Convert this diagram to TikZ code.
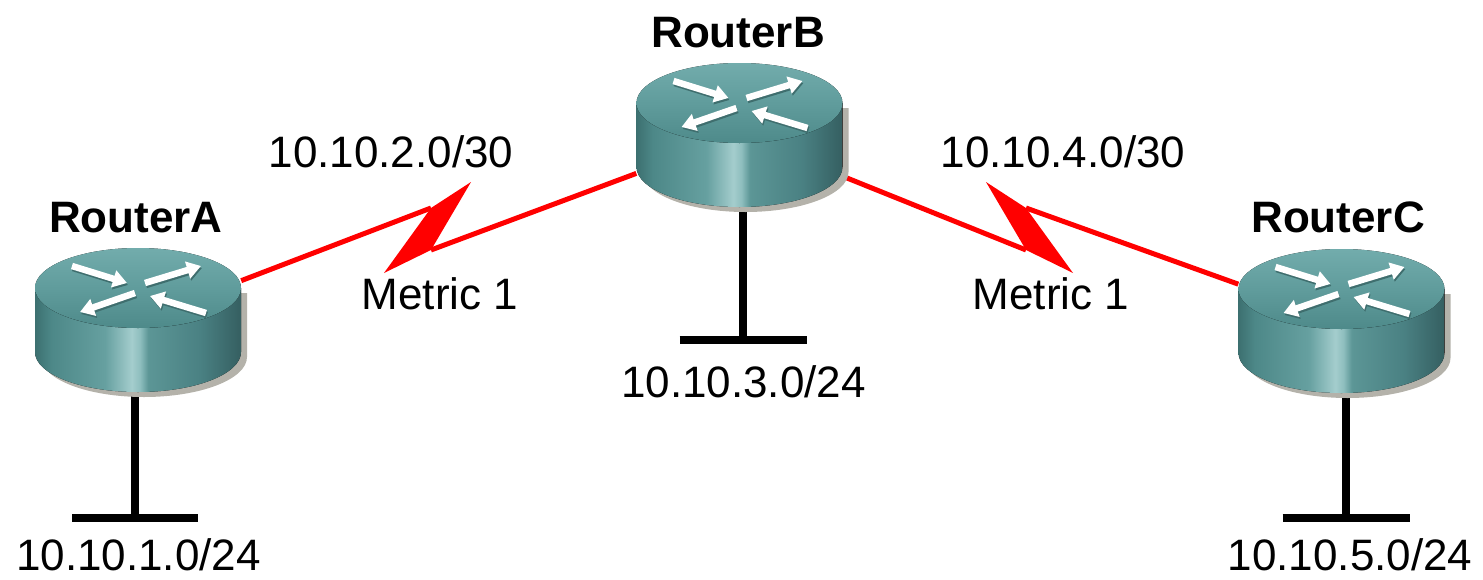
\documentclass[tikz,border=0pt]{standalone}
\usepackage{fontspec}
\setmainfont{Liberation Sans}
\usetikzlibrary{arrows.meta,calc}
\definecolor{sA}{HTML}{3C7070}
\definecolor{sB}{HTML}{4D8888}
\definecolor{sC}{HTML}{66A0A0}
\definecolor{sD}{HTML}{A4CDCD}
\definecolor{sE}{HTML}{8EBEBE}
\definecolor{sF}{HTML}{5C9696}
\definecolor{sG}{HTML}{4A8183}
\definecolor{sH}{HTML}{355F61}
\definecolor{topLight}{HTML}{72ACAC}
\definecolor{topMid}{HTML}{609C9C}
\definecolor{topDark}{HTML}{4E8A8A}
\definecolor{rshadow}{HTML}{B4B2AA}
\definecolor{arrowshadow}{HTML}{3F6E6E}
\definecolor{linkred}{HTML}{FF0000}
\pgfdeclarehorizontalshading{routerside}{100bp}{color(0bp)=(sA); color(25bp)=(sA); color(29bp)=(sB); color(42bp)=(sC); color(48.5bp)=(sD); color(50.5bp)=(sE); color(52.5bp)=(sF); color(65bp)=(sG); color(75bp)=(sH); color(100bp)=(sH)}
\tikzset{
  router/.pic={
    \fill[rshadow] (-97,5) -- (-97,69) arc[start angle=180,end angle=0,x radius=103,y radius=40] -- (109,5) -- cycle;
    \fill[shading=routerside] (-103,0) -- (-103,64) arc[start angle=180,end angle=0,x radius=103,y radius=40] -- (103,0) -- cycle;
    \fill[top color=topLight, bottom color=topDark, middle color=topMid] (0,0) ellipse[x radius=103,y radius=40];
    \draw[rarrow, arrowshadow] (-65,-20) -- (-10,-3);
    \draw[rarrow, arrowshadow] (8,-3) -- (64,-20);
    \draw[rarrow, arrowshadow] (-2,7) -- (-57,26);
    \draw[rarrow, arrowshadow] (69,27) -- (13,10);
    \draw[rarrow, white] (-66,-22) -- (-11,-5);
    \draw[rarrow, white] (7,-5) -- (63,-22);
    \draw[rarrow, white] (-3,5) -- (-58,24);
    \draw[rarrow, white] (68,25) -- (12,8);
  },
  rarrow/.style={line width=6.5pt, -{Triangle[length=14pt,width=17pt]}},
  routerbox/.style={shape=rectangle, minimum width=206pt, minimum height=144pt, inner sep=0pt},
  serial/.style={draw=linkred, line width=5pt},
  bolt/.style={fill=linkred},
  stand/.style={draw=black, line width=8pt},
  lbl/.style={anchor=base, inner sep=0pt, font=\fontsize{44}{48}\selectfont},
  rlbl/.style={anchor=base, inner sep=0pt, font=\fontsize{44}{48}\selectfont\bfseries}
}
\begin{document}
\begin{tikzpicture}[x=1pt,y=-1pt]
\useasboundingbox (0,0) rectangle (1483,579);
% router positions
\node[routerbox] (A) at (138,320) {};
\node[routerbox] (B) at (739.5,135) {};
\node[routerbox] (C) at (1341.5,321) {};
% serial bolt corners
\coordinate (ab1) at (471,182);
\coordinate (ab2) at (431,250);
\coordinate (ab3) at (384,273);
\coordinate (ab4) at (431,208);
\coordinate (bc1) at (986,182);
\coordinate (bc2) at (1026,250);
\coordinate (bc3) at (1073,273);
\coordinate (bc4) at (1026,208);
% serial links
\draw[serial] (A) -- (ab4);
\draw[serial] (ab2) -- (B);
\fill[bolt] (ab1) -- (ab2) -- (ab3) -- (ab4) -- cycle;
\draw[serial] (B) -- (bc2);
\draw[serial] (bc4) -- (C);
\fill[bolt] (bc1) -- (bc2) -- (bc3) -- (bc4) -- cycle;
% LAN stands
\coordinate (lanA) at (135,518);
\coordinate (lanB) at (743,340);
\coordinate (lanC) at (1346,518);
\draw[stand] (lanA) -- (lanA |- A.south);
\draw[stand] ($(lanA)+(-63,0)$) -- ($(lanA)+(63,0)$);
\draw[stand] (lanB) -- (lanB |- B.south);
\draw[stand] ($(lanB)+(-63.5,0)$) -- ($(lanB)+(63.5,0)$);
\draw[stand] (lanC) -- (lanC |- C.south);
\draw[stand] ($(lanC)+(-63.5,0)$) -- ($(lanC)+(63.5,0)$);
% routers
\pic at (138,288) {router};
\pic at (739.5,103) {router};
\pic at (1341.5,289) {router};
% labels
\node[rlbl] (tA) at (136,232) {RouterA};
\node[rlbl] (tB) at (738,47) {RouterB};
\node[rlbl] (tC) at (1338,232) {RouterC};
\node[lbl] (nAB) at (391,167) {10.10.2.0/30};
\node[lbl] (mAB) at (440,309) {Metric 1};
\node[lbl] (nBC) at (1063,167) {10.10.4.0/30};
\node[lbl] (mBC) at (1051,309) {Metric 1};
\node[lbl] (nA) at (138.5,570) {10.10.1.0/24};
\node[lbl] (nB) at (743.5,397) {10.10.3.0/24};
\node[lbl] (nC) at (1350,570) {10.10.5.0/24};
\end{tikzpicture}
\end{document}
